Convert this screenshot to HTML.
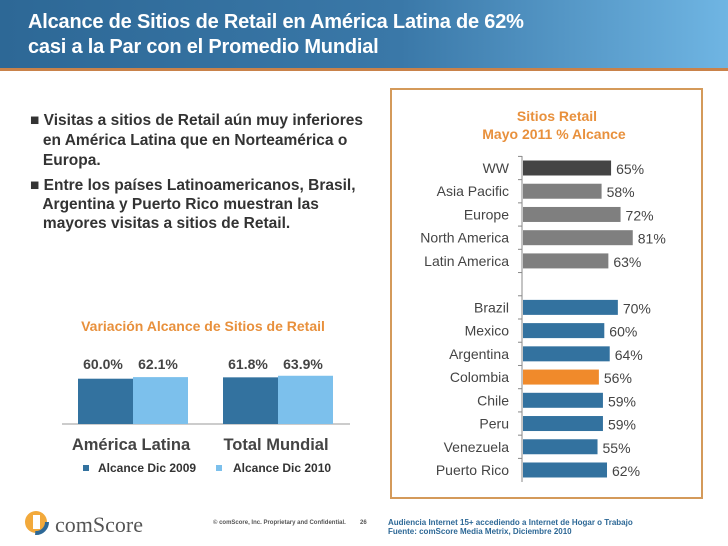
<!DOCTYPE html>
<html><head><meta charset="utf-8"><style>
body{margin:0;width:728px;height:546px;overflow:hidden;background:#fff;font-family:"Liberation Sans",sans-serif;position:relative}
.abs{position:absolute}
#banner{left:0;top:0;width:728px;height:68px;background:linear-gradient(90deg,#2d6896 0%,#3a78a8 55%,#6fb5e3 100%);border-bottom:3px solid #c9824a}
#banner div{color:#fff;font-weight:bold;font-size:20px;line-height:25px;position:absolute;left:28px;top:10px;letter-spacing:-0.2px}
.bul{font-weight:bold;font-size:15.5px;color:#333;line-height:20px}
</style></head><body>
<div id="banner" class="abs"><div>Alcance de Sitios de Retail en América Latina de 62%<br>casi a la Par con el Promedio Mundial</div></div>
<div class="abs bul" style="left:30px;top:111px;width:370px">&#9632; Visitas a sitios de Retail aún muy inferiores<br>&nbsp;&nbsp; en América Latina que en Norteamérica o<br>&nbsp;&nbsp; Europa.</div>
<div class="abs bul" style="left:30px;top:176px;width:370px;line-height:19px">&#9632; Entre los países Latinoamericanos, Brasil,<br>&nbsp;&nbsp; Argentina y Puerto Rico muestran las<br>&nbsp;&nbsp; mayores visitas a sitios de Retail.</div>
<div class="abs" style="left:390px;top:88px;width:309px;height:407px;border:2px solid #d49a5a"></div>
<svg class="abs" style="left:0;top:0" width="728" height="546" id="svg">
<text x="557" y="121" text-anchor="middle" font-size="14" font-weight="bold" fill="#e8903c">Sitios Retail</text>
<text x="554" y="139" text-anchor="middle" font-size="14" font-weight="bold" fill="#e8903c">Mayo 2011 % Alcance</text>
<text x="203" y="331" text-anchor="middle" font-size="14" font-weight="bold" fill="#e8903c">Variación Alcance de Sitios de Retail</text>
<g id="rc"></g><g id="lc"></g>
<g>
<rect x="83" y="465" width="6" height="6" fill="#33729f"/><text x="98" y="472" font-size="12" font-weight="bold" fill="#333">Alcance Dic 2009</text>
<rect x="216" y="465" width="6" height="6" fill="#7cc0ec"/><text x="233" y="472" font-size="12" font-weight="bold" fill="#333">Alcance Dic 2010</text>
</g>
<g>
<circle cx="36" cy="522" r="11" fill="#f2a93b"/><circle cx="36" cy="522" r="11" fill="none" stroke="#2d6896" stroke-width="4" stroke-dasharray="18 52"/><rect x="33" y="515" width="7" height="14" fill="#fff"/>
<text x="55" y="532" font-size="22" fill="#555" font-family="Liberation Serif,serif">comScore</text></g>
<text x="213" y="524" font-size="6" font-weight="bold" fill="#555">© comScore, Inc.  Proprietary and Confidential.</text>
<text x="360" y="524" font-size="6" font-weight="bold" fill="#555">26</text>
<text x="388" y="525" font-size="8" font-weight="bold" fill="#2d6896">Audiencia Internet 15+  accediendo a Internet de Hogar o Trabajo</text>
<text x="388" y="534" font-size="8" font-weight="bold" fill="#2d6896">Fuente: comScore Media Metrix, Diciembre 2010</text>
</svg>
<script>
const rCats=["WW","Asia Pacific","Europe","North America","Latin America","","Brazil","Mexico","Argentina","Colombia","Chile","Peru","Venezuela","Puerto Rico"];
const rVals=[65,58,72,81,63,null,70,60,64,56,59,59,55,62];
const rColors=["#444444","#7f7f7f","#7f7f7f","#7f7f7f","#7f7f7f",null,"#33729f","#33729f","#33729f","#f08a2b","#33729f","#33729f","#33729f","#33729f"];
const lCats=["América Latina","Total Mundial"];
const l2009=[60.0,61.8];
const l2010=[62.1,63.9];
const NS="http://www.w3.org/2000/svg";
function mk(t,a,p){const e=document.createElementNS(NS,t);for(const k in a)e.setAttribute(k,a[k]);p.appendChild(e);return e;}
const rc=document.getElementById('rc');
const rx=v=>523+v*1.355, ry=i=>168+i*23.23;
mk('line',{x1:522,y1:156,x2:522,y2:482,stroke:'#888','stroke-width':1},rc);
rCats.forEach((c,i)=>{
  mk('line',{x1:518,y1:ry(i)-11.6,x2:522,y2:ry(i)-11.6,stroke:'#888'},rc);
  if(rVals[i]==null)return;
  const b=mk('rect',{x:523,y:ry(i)-7.5,width:rx(rVals[i])-523,height:15,fill:rColors[i]},rc);
  
  
  const t=mk('text',{x:509,y:ry(i)+5,'text-anchor':'end','font-size':14,fill:'#444'},rc);t.textContent=c;
  
  
  const v=mk('text',{x:rx(rVals[i])+5,y:ry(i)+6,'font-size':14,fill:'#444'},rc);v.textContent=rVals[i]+'%';
  
  
});
const lc=document.getElementById('lc');
const base=424, ly=v=>base-v*0.755;
const gx=[78,223];
mk('line',{x1:62,y1:base,x2:350,y2:base,stroke:'#999'},lc);
lCats.forEach((c,i)=>{
  [[l2009,'#33729f',0],[l2010,'#7cc0ec',55]].forEach(([arr,col,off],k)=>{
    const x=gx[i]+off;
    const b=mk('rect',{x:x,y:ly(arr[i]),width:55,height:base-ly(arr[i]),fill:col},lc);
    
    
    const t=mk('text',{x:x+25,y:369,'text-anchor':'middle','font-size':14,'font-weight':'bold',fill:'#444'},lc);
    t.textContent=arr[i].toFixed(1)+'%';
    
    
  });
  const t=mk('text',{x:gx[i]+53,y:450,'text-anchor':'middle','font-size':16.5,'font-weight':'bold',fill:'#444'},lc);
  t.textContent=c;
  
  
});
</script>
</body></html>
